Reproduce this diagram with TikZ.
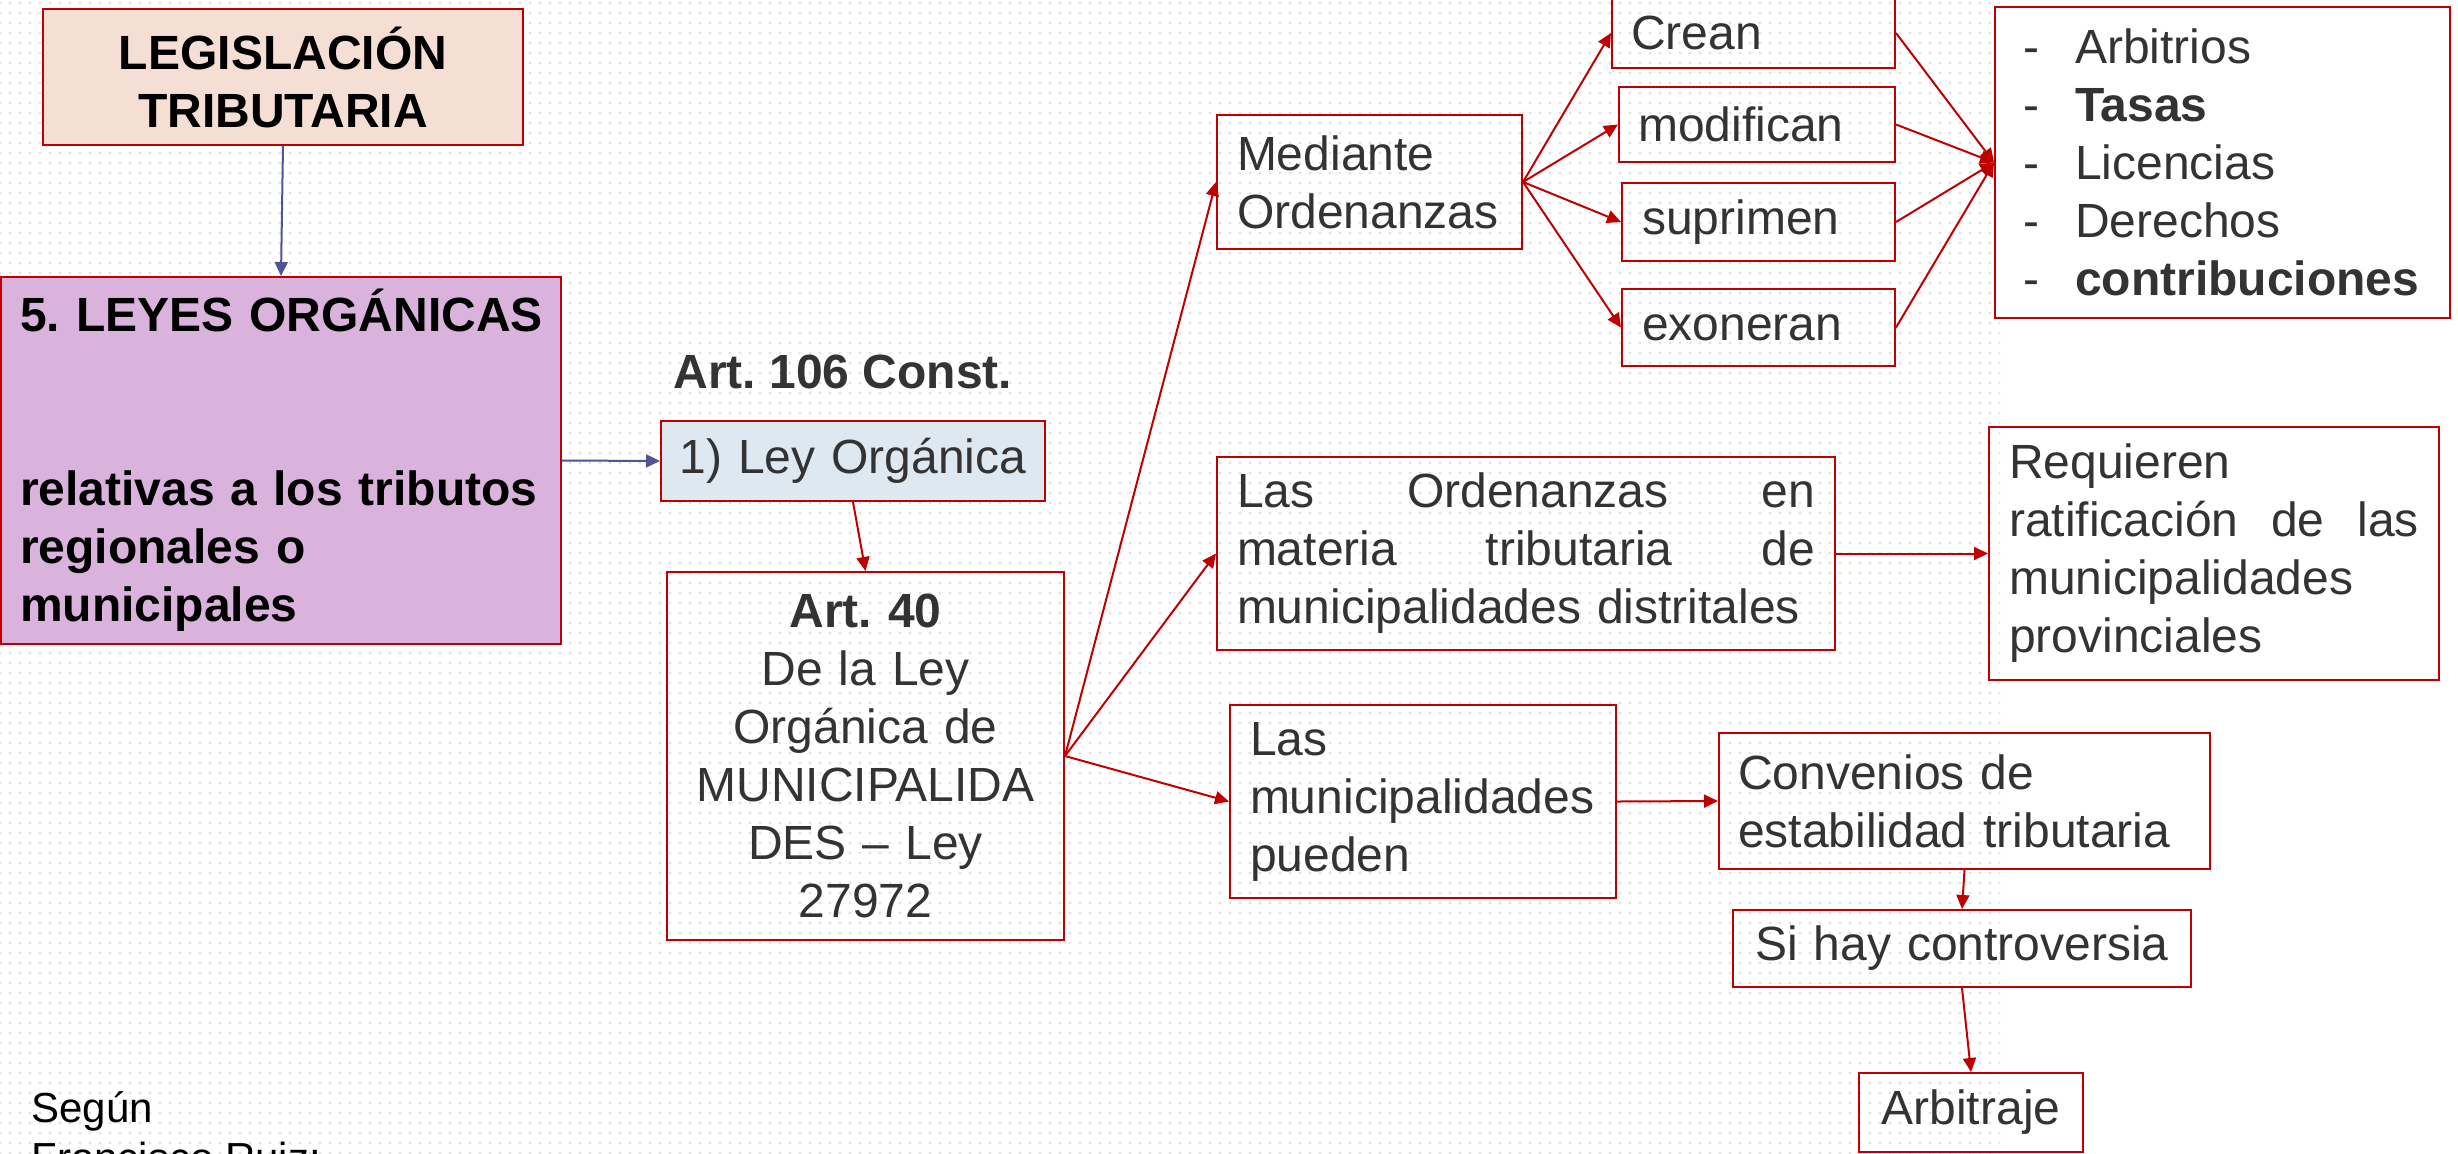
\documentclass[tikz,border=0pt]{standalone}
\usepackage{fontspec}
\setmainfont{Liberation Sans}
\usetikzlibrary{arrows.meta,patterns.meta}
\definecolor{redline}{RGB}{192,0,0}
\definecolor{bluearrow}{RGB}{80,84,150}
\definecolor{peach}{RGB}{245,222,211}
\definecolor{lilac}{RGB}{217,179,220}
\definecolor{paleblue}{RGB}{222,232,240}
\definecolor{txt}{RGB}{51,51,51}
\definecolor{dotgray}{RGB}{226,226,226}
\newcommand\mysize{\fontsize{24pt}{29pt}\selectfont\frenchspacing}
\begin{document}
\frenchspacing
\begin{tikzpicture}[x=0.5pt,y=-0.5pt,
  font=\mysize,
  box/.style={draw=redline,line width=1pt,anchor=north west,inner ysep=0pt,text=txt},
  lbox/.style={box,align=left},
  cbox/.style={box,align=center},
  redarrow/.style={draw=redline,line width=1pt,-{Triangle[length=7pt,width=6.5pt]}},
  bluearr/.style={draw=bluearrow,line width=1pt,-{Triangle[length=7pt,width=6.5pt]}},
]
\useasboundingbox (0,0) rectangle (2458,1153);
\fill[white] (0,0) rectangle (2458,1153);
\fill[pattern={Dots[distance=5pt,radius=0.8pt]},pattern color=dotgray] (0,0) rectangle (2000,1153);

% left column
\node[cbox,fill=peach,text=black,font=\mysize\bfseries,text width=230pt,inner xsep=5pt,minimum height=68pt] (leg) at (42,8) {LEGISLACIÓN\\TRIBUTARIA};
\node[lbox,fill=lilac,text=black,font=\mysize\bfseries,text width=261pt,inner xsep=9.5pt,minimum height=183.5pt] (leyes) at (0,276) {\mbox{5. LEYES ORGÁNICAS}\\[58pt]\mbox{relativas a los tributos}\\regionales o\\municipales};

\node[text=txt,font=\mysize\bfseries,inner sep=0pt] (art106) at (843,372) {Art. 106 Const.};
\node[cbox,fill=paleblue,text width=182pt,inner xsep=5pt,minimum height=40pt] (ley) at (660,420) {1) Ley Orgánica};
\node[cbox,text width=188.5pt,inner xsep=5pt,minimum height=184pt] (art40) at (666,571) {\textbf{Art. 40}\\De la Ley\\Orgánica de\\MUNICIPALIDA\\DES – Ley\\27972};

% upper branch
\node[lbox,text width=132.5pt,inner xsep=10pt,minimum height=67pt] (med) at (1216,114) {Mediante\\Ordenanzas};
\node[lbox,text width=122.5pt,inner xsep=9.5pt,minimum height=35pt] (crean) at (1611,-3) {Crean};
\node[lbox,text width=119pt,inner xsep=9.5pt,minimum height=37.5pt] (mod) at (1618,86) {modifican};
\node[lbox,text width=116.5pt,inner xsep=10pt,minimum height=39pt] (sup) at (1621,182) {suprimen};
\node[lbox,text width=116.5pt,inner xsep=10pt,minimum height=38.5pt] (exo) at (1621,288) {exoneran};
\node[lbox,fill=white,text width=199.5pt,inner xsep=14pt,minimum height=155.5pt] (list) at (1994,6)
 {\makebox[26pt][l]{-}Arbitrios\\\makebox[26pt][l]{-}\textbf{Tasas}\\\makebox[26pt][l]{-}Licencias\\\makebox[26pt][l]{-}Derechos\\\makebox[26pt][l]{-}\textbf{contribuciones}};

% middle branch
\node[lbox,text width=289pt,inner xsep=10pt,minimum height=96.5pt] (ord) at (1216,456)
 {Las\hfill Ordenanzas\hfill en\\materia\hfill tributaria\hfill de\\municipalidades distritales};
\node[lbox,text width=205pt,inner xsep=10pt,minimum height=126.5pt] (req) at (1988,426)
 {Requieren\\ratificación\hfill de\hfill las\\municipalidades\\provinciales};

% lower branch
\node[lbox,text width=173pt,inner xsep=10pt,minimum height=96.5pt] (mun) at (1229,704) {Las\\municipalidades\\pueden};
\node[lbox,text width=226.5pt,inner xsep=9.5pt,minimum height=68pt] (conv) at (1718,732) {Convenios de\\estabilidad tributaria};
\node[cbox,text width=219pt,inner xsep=5pt,minimum height=38.5pt] (si) at (1732,909) {Si hay controversia};
\node[cbox,text width=102pt,inner xsep=5pt,minimum height=39.5pt] (arb) at (1858,1072) {Arbitraje};

% footnote
\node[anchor=base west,inner sep=0pt,font=\fontsize{21pt}{25pt}\selectfont] (seg1) at (31,1122) {Según};
\node[anchor=base west,inner sep=0pt,font=\fontsize{21pt}{25pt}\selectfont] (seg2) at (31,1172) {Francisco Ruiz:};

% connectors
\draw[bluearr] (leg.south) -- (leyes.north);
\draw[bluearr] (leyes.east) -- (ley.west);
\draw[redarrow] (ley.south) -- (art40.north);
\draw[redarrow] (art40.east) -- (med.west);
\draw[redarrow] (art40.east) -- (ord.west);
\draw[redarrow] (art40.east) -- (mun.west);
\draw[redarrow] (med.east) -- (crean.west);
\draw[redarrow] (med.east) -- (mod.west);
\draw[redarrow] (med.east) -- (sup.west);
\draw[redarrow] (med.east) -- (exo.west);
\draw[redarrow] (crean.east) -- (list.west);
\draw[redarrow] (mod.east) -- (list.west);
\draw[redarrow] (sup.east) -- (list.west);
\draw[redarrow] (exo.east) -- (list.west);
\draw[redarrow] (ord.east) -- (req.west);
\draw[redarrow] (mun.east) -- (conv.west);
\draw[redarrow] (conv.south) -- (si.north);
\draw[redarrow] (si.south) -- (arb.north);
\end{tikzpicture}
\end{document}
